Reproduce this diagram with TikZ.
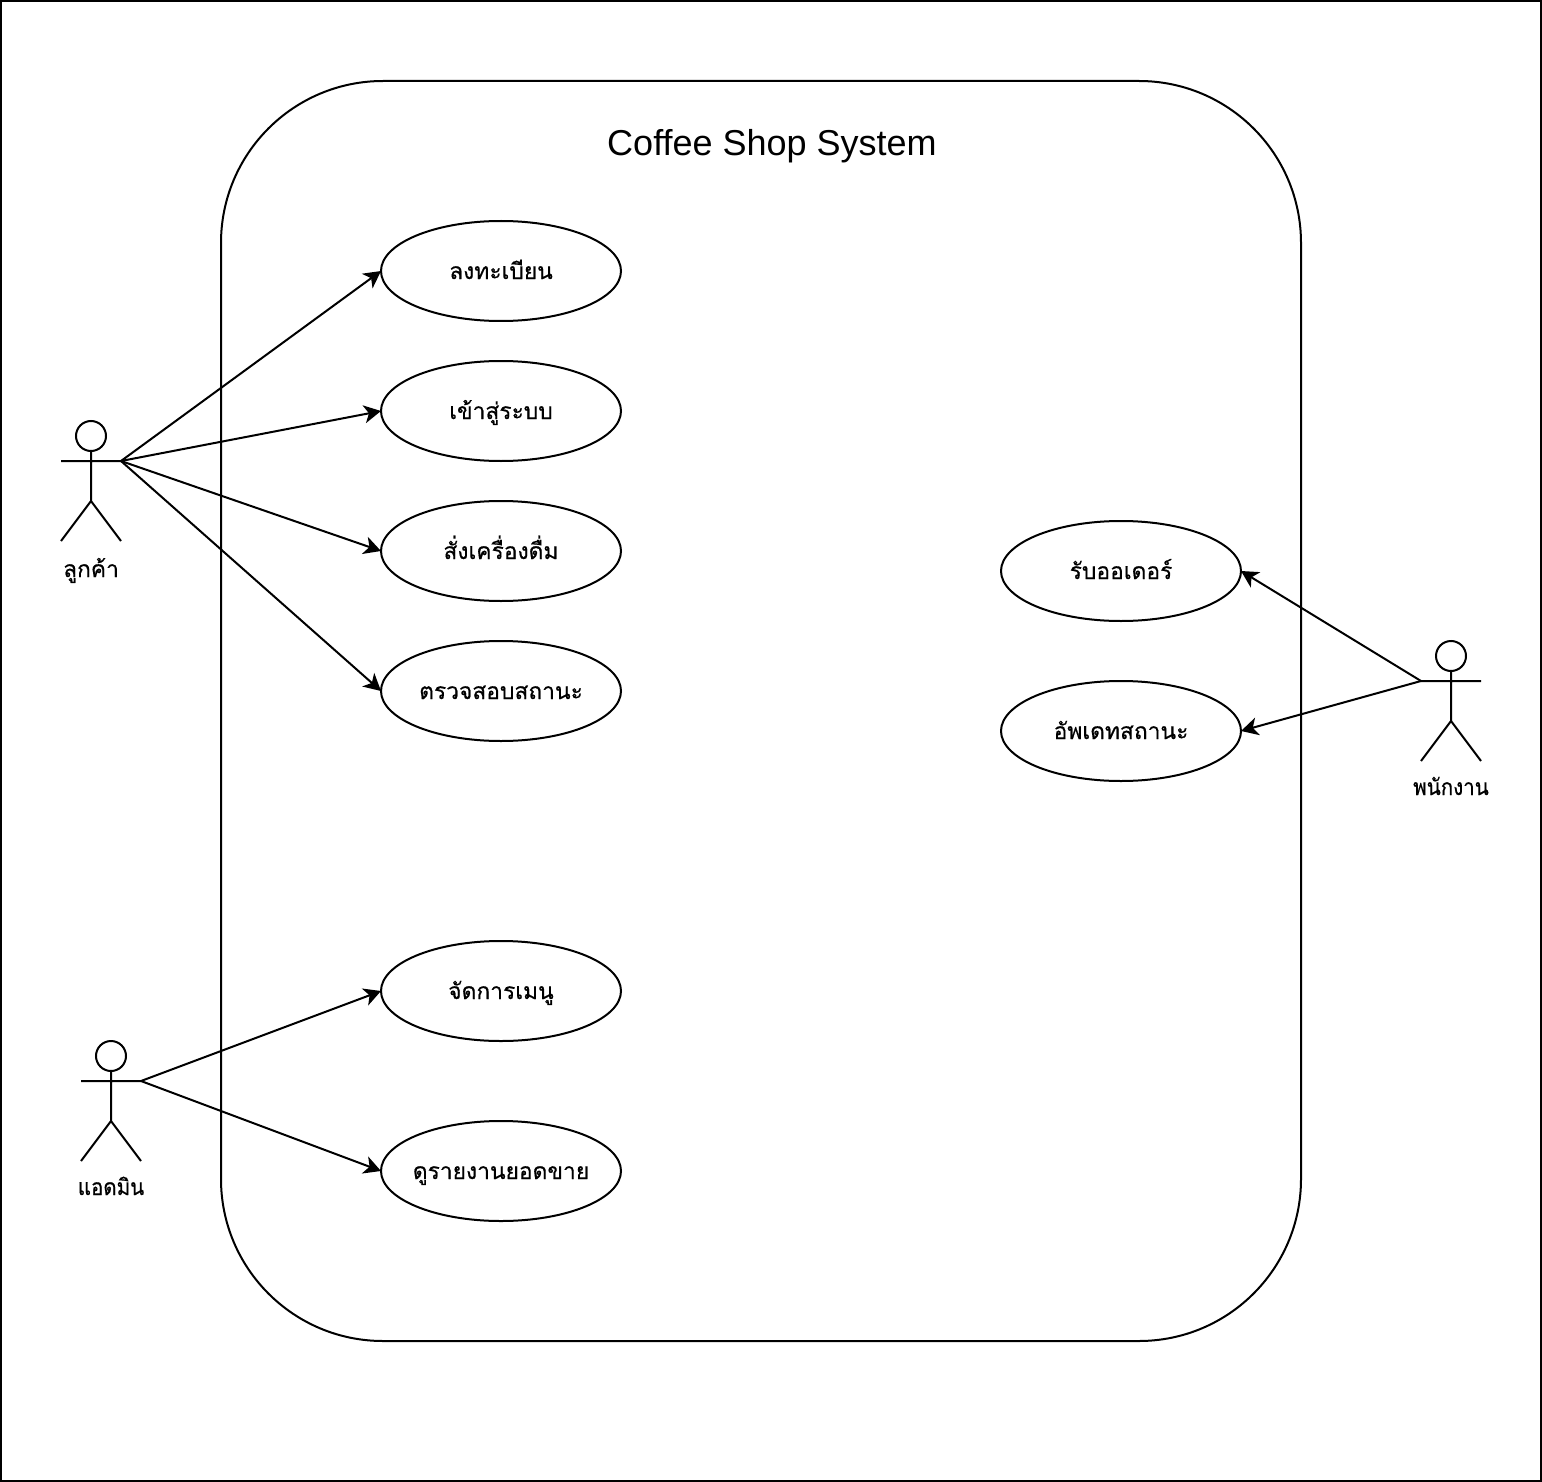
\documentclass[tikz,border=0pt]{standalone}
\usepackage{fontspec}
\setmainfont{Liberation Sans}
\newfontfamily\thaifont[Script=Thai,FakeBold=0.5]{Loma}
\newfontfamily\thainarrow[Script=Thai,FakeBold=0.5,FakeStretch=0.9]{Loma}
\usetikzlibrary{positioning,arrows.meta,shapes.geometric}
\newcommand{\actor}[5]{%
\node[head] (#1) at (#2,#3) {};
\coordinate (#1 hand) at (#2+30,#3+25);
\coordinate (#1 arm) at (#2-30,#3+25);
\coordinate (#1 hip) at (#2,#3+65);
\coordinate (#1 lfoot) at (#2-30,#3+105);
\coordinate (#1 rfoot) at (#2+30,#3+105);
\draw[l] (#1.south)--(#1 hip) (#1 arm)--(#1 hand) (#1 lfoot)--(#1 hip)--(#1 rfoot);
\node[who] (#1 name) at (#2,#3+#4) {#5};}
\begin{document}
\begin{tikzpicture}[x=.5pt,y=-.5pt,node distance=20pt,
 l/.style={line width=1pt},
 u/.style={ellipse,draw,line width=1pt,minimum width=120pt,minimum height=50pt,inner xsep=-4pt,inner ysep=0pt,outer sep=0pt,align=center,font=\thaifont\fontsize{11.4}{14}\selectfont,text height=10pt,text depth=2pt},
 head/.style={circle,draw,line width=1pt,minimum size=15pt,inner sep=0pt,outer sep=0pt},
 who/.style={font=\thaifont\fontsize{11.4}{14}\selectfont,inner sep=0pt,text height=10pt,text depth=2pt},
 a/.style={-{Stealth[length=8.5pt,width=9pt,inset=2.4pt]},line width=1pt}]
\useasboundingbox (0,0) rectangle (1542,1482);
\draw[l] (1,1) rectangle (1541,1481);
\draw[l,rounded corners=81pt] (221,81) rectangle (1301,1341);
\node[font=\fontsize{18}{22}\selectfont,inner sep=0pt] (title) at (772,146) {Coffee Shop System};
\node[u] (register) at (501,271) {ลงทะเบียน};
\node[u,below=of register] (login) {เข้าสู่ระบบ};
\node[u,below=of login] (order) {สั่งเครื่องดื่ม};
\node[u,below=of order] (status) {ตรวจสอบสถานะ};
\node[u] (menu) at (501,991) {จัดการเมนู};
\node[u] (report) at (501,1171) {ดูรายงานยอดขาย};
\node[u] (take) at (1121,571) {รับออเดอร์};
\node[u,below=30pt of take] (update) {อัพเดทสถานะ};
\actor{customer}{91}{436}{133}{ลูกค้า}
\actor{admin}{111}{1056}{131}{\thainarrow แอดมิน}
\actor{staff}{1451}{656}{131}{\thainarrow พนักงาน}
\draw[a] (customer hand)--(register.west);
\draw[a] (customer hand)--(login.west);
\draw[a] (customer hand)--(order.west);
\draw[a] (customer hand)--(status.west);
\draw[a] (admin hand)--(menu.west);
\draw[a] (admin hand)--(report.west);
\draw[a] (staff arm)--(take.east);
\draw[a] (staff arm)--(update.east);
\end{tikzpicture}
\end{document}
